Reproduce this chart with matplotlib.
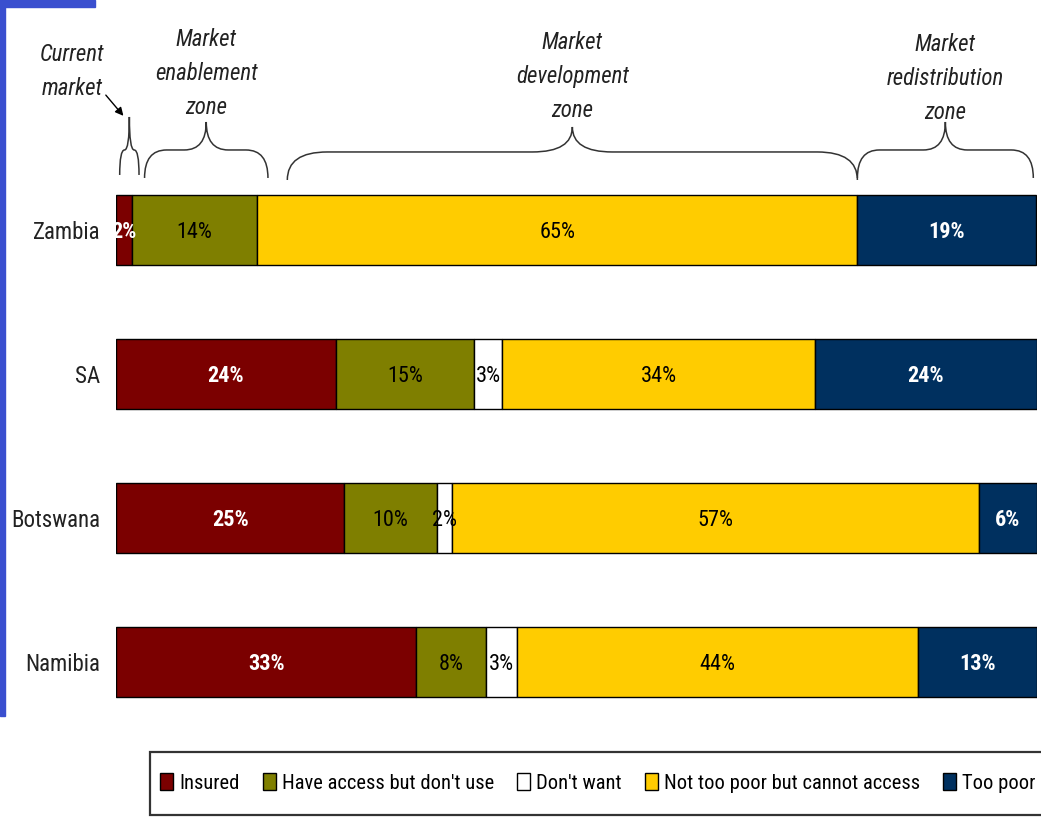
import numpy as np
import matplotlib
matplotlib.use("Agg")
import matplotlib.pyplot as plt
from matplotlib.patches import Patch, Rectangle, PathPatch
from matplotlib.path import Path

FONT = ["Roboto Condensed", "Fira Sans Condensed", "PT Sans Narrow",
        "Archivo Narrow", "DejaVu Sans"]
plt.rcParams["font.family"] = FONT

# ---------------------------------------------------------------------------
# data (share of adults, %)
# ---------------------------------------------------------------------------
countries = ["Zambia", "SA", "Botswana", "Namibia"]
categories = ["Insured", "Have access but don't use", "Don't want",
              "Not too poor but cannot access", "Too poor"]
insured = [1.7, 23.9, 24.8, 32.6]
access_no_use = [13.6, 15.0, 10.0, 7.6]
dont_want = [0.0, 3.0, 1.7, 3.3]
cannot_access = [65.2, 34.0, 57.2, 43.6]
too_poor = [19.4, 24.1, 6.3, 12.9]
series = [insured, access_no_use, dont_want, cannot_access, too_poor]

colors = ["#7B0000", "#7F7F00", "#FFFFFF", "#FFCC00", "#00305F"]
label_colors = ["white", "black", "black", "black", "white"]
label_weights = ["bold", "normal", "normal", "normal", "bold"]

# zones drawn as braces above the bars (x span in % of the bar)
zones = [
    ("Current\nmarket", 0.4, 2.5),
    ("Market\nenablement\nzone", 3.1, 16.5),
    ("Market\ndevelopment\nzone", 18.6, 80.5),
    ("Market\nredistribution\nzone", 80.5, 99.6),
]

W, H = 1041, 821
fig = plt.figure(figsize=(W / 100, H / 100), dpi=100)

# slide decoration (blue edge)
fig.patches.append(Rectangle((0, 105 / H), 5 / W, 1 - 105 / H,
                             transform=fig.transFigure, color="#3A4FCF"))
fig.patches.append(Rectangle((0, 1 - 7 / H), 95 / W, 7 / H,
                             transform=fig.transFigure, color="#3A4FCF"))

ax = fig.add_axes([116 / W, 121 / H, 921 / W, 700 / H])
ax.set_xlim(0, 100)
ax.set_ylim(3.264, -1.597)
ax.axis("off")

ypos = np.arange(len(countries))
left = np.zeros(len(countries))
for vals, col, lc, lw in zip(series, colors, label_colors, label_weights):
    vals = np.array(vals)
    mask = vals > 0
    ax.barh(ypos[mask], vals[mask], left=left[mask], height=0.49,
            color=col, edgecolor="black", linewidth=1.0, zorder=2)
    for y, v, l in zip(ypos[mask], vals[mask], left[mask]):
        ax.text(l + v / 2, y, f"{v:.0f}%", ha="center",
                va="center_baseline", fontsize=16, color=lc,
                fontweight=lw, zorder=3)
    left = left + vals

for y, name in zip(ypos, countries):
    ax.text(-1.7, y, name, ha="right", va="center_baseline", fontsize=16.5,
            color="#222222")

# ---------------------------------------------------------------------------
# curly braces
# ---------------------------------------------------------------------------
PX_X = 921 / 100.0   # pixels per x unit
PX_Y = 144.0         # pixels per y unit


def brace(x0, x1, yb, ym, yt, r_px=22):
    xm = (x0 + x1) / 2
    r = min(r_px / PX_X, (x1 - x0) / 4)
    verts = [(x0, yb), (x0, ym), (x0 + r, ym),
             (xm - r, ym),
             (xm, ym), (xm, yt),
             (xm, ym), (xm + r, ym),
             (x1 - r, ym),
             (x1, ym), (x1, yb)]
    codes = [Path.MOVETO, Path.CURVE3, Path.CURVE3,
             Path.LINETO,
             Path.CURVE3, Path.CURVE3,
             Path.CURVE3, Path.CURVE3,
             Path.LINETO,
             Path.CURVE3, Path.CURVE3]
    ax.add_patch(PathPatch(Path(verts, codes), facecolor="none",
                           edgecolor="#333333", linewidth=1.1,
                           clip_on=False))


def py(px):
    return (px - 230) / PX_Y


for i, (txt, x0, x1) in enumerate(zones):
    if i == 0:
        brace(x0, x1, py(175), py(150), py(117), r_px=5)
    elif i == 2:
        brace(x0, x1, py(180), py(152), py(127), r_px=40)
    else:
        brace(x0, x1, py(178), py(150), py(122), r_px=22)

zone_text = dict(ha="center", fontsize=16.5, style="italic",
                 color="#222222", linespacing=1.6)
ax.text(-4.8, py(100), zones[0][0], va="bottom", **zone_text)
ax.annotate("", xy=(1.0, py(118)), xytext=(-1.3, py(93)),
            arrowprops=dict(arrowstyle="-|>", color="black", lw=1.0,
                            mutation_scale=12))
zone_bottoms = [119, 122, 124]
for (txt, x0, x1), yb in zip(zones[1:], zone_bottoms):
    ax.text((x0 + x1) / 2, py(yb), txt, va="bottom", **zone_text)

# ---------------------------------------------------------------------------
# legend
# ---------------------------------------------------------------------------
fig.patches.append(Rectangle((150 / W, 1 - 815 / H), 900 / W, 63 / H,
                             transform=fig.transFigure, facecolor="white",
                             edgecolor="#333333", linewidth=1.6))
handles = [Patch(facecolor=c, edgecolor="black", linewidth=1.0, label=l)
           for c, l in zip(colors, categories)]
fig.legend(handles=handles, loc="center left",
           bbox_to_anchor=(160 / W, 1 - 783 / H), ncol=5, frameon=False,
           fontsize=14.8, handlelength=0.65, handleheight=0.9,
           handletextpad=0.3, columnspacing=1.1, borderpad=0,
           borderaxespad=0)

fig.savefig("out.png", dpi=100)
